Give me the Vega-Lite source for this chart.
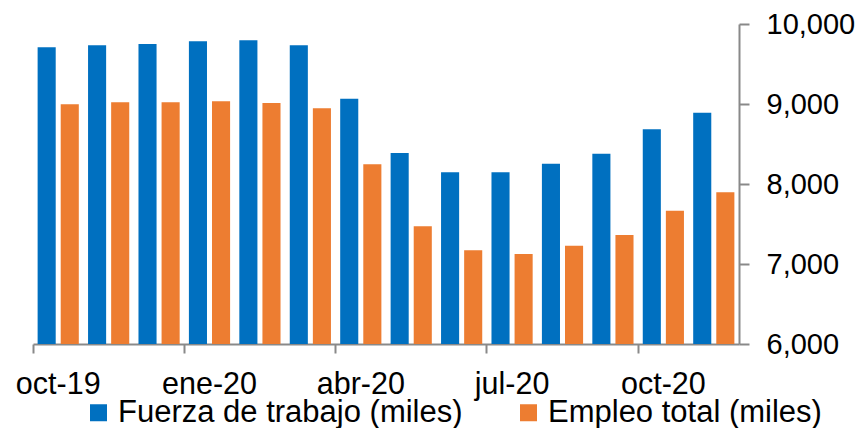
{
  "$schema": "https://vega.github.io/schema/vega-lite/v6.json",
  "width": 706,
  "height": 320,
  "autosize": "none",
  "padding": {"left": 33, "top": 24, "right": 128, "bottom": 84},
  "background": "white",
  "config": {"view": {"stroke": null}, "font": "Liberation Sans"},
  "data": {
    "values": [
      {"mes": "oct-19", "serie": "Fuerza de trabajo (miles)", "valor": 9708},
      {"mes": "nov-19", "serie": "Fuerza de trabajo (miles)", "valor": 9733},
      {"mes": "dic-19", "serie": "Fuerza de trabajo (miles)", "valor": 9750},
      {"mes": "ene-20", "serie": "Fuerza de trabajo (miles)", "valor": 9783},
      {"mes": "feb-20", "serie": "Fuerza de trabajo (miles)", "valor": 9796},
      {"mes": "mar-20", "serie": "Fuerza de trabajo (miles)", "valor": 9733},
      {"mes": "abr-20", "serie": "Fuerza de trabajo (miles)", "valor": 9066},
      {"mes": "may-20", "serie": "Fuerza de trabajo (miles)", "valor": 8388},
      {"mes": "jun-20", "serie": "Fuerza de trabajo (miles)", "valor": 8146},
      {"mes": "jul-20", "serie": "Fuerza de trabajo (miles)", "valor": 8146},
      {"mes": "ago-20", "serie": "Fuerza de trabajo (miles)", "valor": 8254},
      {"mes": "sep-20", "serie": "Fuerza de trabajo (miles)", "valor": 8379},
      {"mes": "oct-20", "serie": "Fuerza de trabajo (miles)", "valor": 8683},
      {"mes": "nov-20", "serie": "Fuerza de trabajo (miles)", "valor": 8892},
      {"mes": "oct-19", "serie": "Empleo total (miles)", "valor": 8998},
      {"mes": "nov-19", "serie": "Empleo total (miles)", "valor": 9021},
      {"mes": "dic-19", "serie": "Empleo total (miles)", "valor": 9021},
      {"mes": "ene-20", "serie": "Empleo total (miles)", "valor": 9033},
      {"mes": "feb-20", "serie": "Empleo total (miles)", "valor": 9012},
      {"mes": "mar-20", "serie": "Empleo total (miles)", "valor": 8946},
      {"mes": "abr-20", "serie": "Empleo total (miles)", "valor": 8246},
      {"mes": "may-20", "serie": "Empleo total (miles)", "valor": 7471},
      {"mes": "jun-20", "serie": "Empleo total (miles)", "valor": 7171},
      {"mes": "jul-20", "serie": "Empleo total (miles)", "valor": 7125},
      {"mes": "ago-20", "serie": "Empleo total (miles)", "valor": 7229},
      {"mes": "sep-20", "serie": "Empleo total (miles)", "valor": 7362},
      {"mes": "oct-20", "serie": "Empleo total (miles)", "valor": 7667},
      {"mes": "nov-20", "serie": "Empleo total (miles)", "valor": 7896}
    ]
  },
  "mark": {"type": "bar"},
  "encoding": {
    "x": {
      "field": "mes",
      "type": "nominal",
      "sort": ["oct-19", "nov-19", "dic-19", "ene-20", "feb-20", "mar-20", "abr-20", "may-20", "jun-20", "jul-20", "ago-20", "sep-20", "oct-20", "nov-20"],
      "scale": {"paddingInner": 0, "paddingOuter": 0},
      "title": null,
      "axis": {
        "values": ["oct-19", "ene-20", "abr-20", "jul-20", "oct-20"],
        "bandPosition": 0,
        "labelAngle": 0,
        "labelFontSize": 30.5,
        "labelFont": "Liberation Sans",
        "labelColor": "black",
        "labelPadding": 16,
        "tickSize": 9,
        "tickWidth": 2,
        "tickColor": "#898989",
        "domainColor": "#898989",
        "domainWidth": 2
      }
    },
    "xOffset": {
      "field": "serie",
      "type": "nominal",
      "sort": ["Fuerza de trabajo (miles)", "Empleo total (miles)"],
      "scale": {"paddingInner": 0.217, "paddingOuter": 0.2}
    },
    "y": {
      "field": "valor",
      "type": "quantitative",
      "scale": {"domain": [6000, 10000], "zero": false},
      "title": null,
      "axis": {
        "orient": "right",
        "values": [6000, 7000, 8000, 9000, 10000],
        "format": ",d",
        "grid": false,
        "labelFontSize": 29,
        "labelFont": "Liberation Sans",
        "labelColor": "black",
        "labelPadding": 17,
        "tickSize": 10,
        "tickWidth": 2,
        "tickColor": "#898989",
        "domainColor": "#898989",
        "domainWidth": 2
      }
    },
    "y2": {"datum": 6000},
    "color": {
      "field": "serie",
      "type": "nominal",
      "scale": {"domain": ["Fuerza de trabajo (miles)", "Empleo total (miles)"], "range": ["#0070C0", "#ED7D31"]},
      "legend": {
        "orient": "none",
        "legendX": 50,
        "legendY": 373,
        "direction": "horizontal",
        "title": null,
        "symbolType": "square",
        "symbolSize": 289,
        "symbolStrokeWidth": 0,
        "labelFontSize": 31,
        "labelFont": "Liberation Sans",
        "labelColor": "black",
        "labelOffset": 4,
        "labelLimit": 0,
        "columnPadding": 50,
        "padding": 0
      }
    }
  }
}
